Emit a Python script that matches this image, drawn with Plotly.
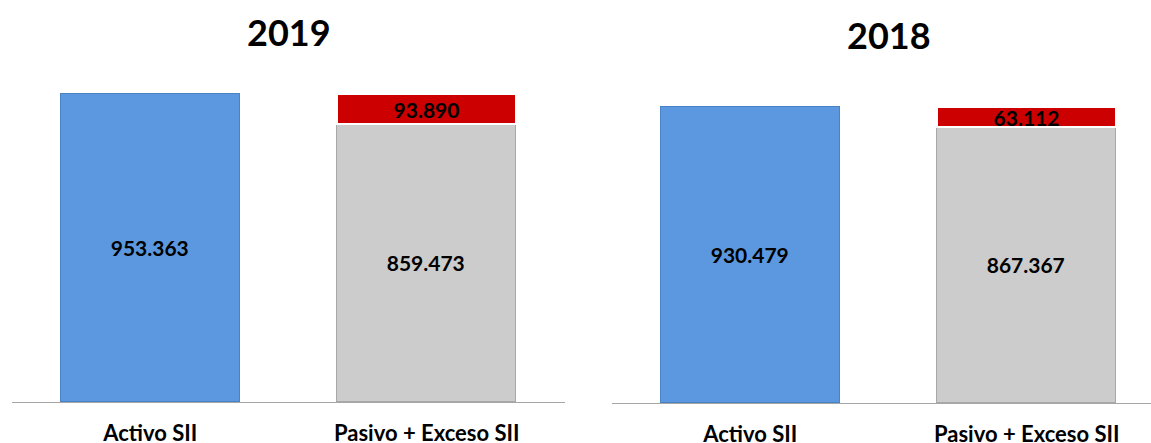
import plotly.graph_objects as go

# ---- data ----
categories = ["Activo SII", "Pasivo + Exceso SII"]
years = ["2019", "2018"]
activo = [953363, 930479]
pasivo = [859473, 867367]
exceso = [93890, 63112]

W, H = 1151, 443
BLUE = "#5C98DF"
GRAY = "#CCCCCC"
RED = "#CC0000"
FONT = "Lato"


def fmt(v):
    return f"{v:,}".replace(",", ".")


fig = go.Figure()
bar_w = 0.648
for i, yr in enumerate(years):
    xa = "x" if i == 0 else "x2"
    ya = "y" if i == 0 else "y2"
    fig.add_trace(go.Bar(
        x=[categories[0]], y=[activo[i]], xaxis=xa, yaxis=ya, width=bar_w,
        marker=dict(color=BLUE, line=dict(color="#4A82C6", width=1.5)),
        text=[fmt(activo[i])], textposition="inside", insidetextanchor="middle",
        textangle=0, constraintext="none",
        textfont=dict(family=FONT, size=21, color="black", weight=700),
        showlegend=False, hoverinfo="skip"))
    fig.add_trace(go.Bar(
        x=[categories[1]], y=[pasivo[i]], xaxis=xa, yaxis=ya, width=bar_w,
        marker=dict(color=GRAY, line=dict(color="#A8A8A8", width=1.5)),
        text=[fmt(pasivo[i])], textposition="inside", insidetextanchor="middle",
        textangle=0, constraintext="none",
        textfont=dict(family=FONT, size=21, color="black", weight=700),
        showlegend=False, hoverinfo="skip"))
    fig.add_trace(go.Bar(
        x=[categories[1]], y=[exceso[i]], xaxis=xa, yaxis=ya, width=bar_w,
        marker=dict(color=RED, line=dict(color="white", width=2)),
        text=[fmt(exceso[i])], textposition="inside", insidetextanchor="middle",
        textangle=0, constraintext="none",
        textfont=dict(family=FONT, size=21, color="black", weight=700),
        showlegend=False, hoverinfo="skip"))

# layout geometry (pixels)
L_x0, L_x1 = 12, 565
R_x0 = 612
cat_px = 276.5
base_L, base_R = 402, 403
top_px = 60
scale_L = 308 / activo[0]   # px per unit
scale_R = 296 / activo[1]

xcommon = dict(type="category", showline=True, linecolor="#A6A6A6", linewidth=1,
               showgrid=False, zeroline=False, ticks="", fixedrange=True,
               ticklabelstandoff=12, automargin=False,
               tickfont=dict(family=FONT, size=22, color="black", weight=700))
ycommon = dict(visible=False, showgrid=False, zeroline=False, fixedrange=True,
               automargin=False)

fig.update_layout(
    width=W, height=H, margin=dict(l=0, r=0, t=0, b=0, autoexpand=False),
    paper_bgcolor="white", plot_bgcolor="white",
    barmode="stack", bargap=0,
    xaxis=dict(domain=[L_x0 / W, L_x1 / W], range=[-0.5, 1.5], anchor="y", **xcommon),
    yaxis=dict(domain=[(H - base_L) / H, (H - top_px) / H],
               range=[0, (base_L - top_px) / scale_L], anchor="x", **ycommon),
    xaxis2=dict(domain=[R_x0 / W, 1], range=[-0.5, -0.5 + (W - R_x0) / cat_px],
                anchor="y2", **xcommon),
    yaxis2=dict(domain=[(H - base_R) / H, (H - top_px) / H],
                range=[0, (base_R - top_px) / scale_R], anchor="x2", **ycommon),
    annotations=[
        dict(text=years[0], x=(L_x0 + L_x1) / 2 / W, y=(H - 32) / H, xref="paper", yref="paper",
             xanchor="center", yanchor="middle", showarrow=False,
             font=dict(family=FONT, size=36, color="black", weight=700)),
        dict(text=years[1], x=(R_x0 + R_x0 + 2 * cat_px) / 2 / W, y=(H - 35) / H,
             xref="paper", yref="paper", xanchor="center", yanchor="middle", showarrow=False,
             font=dict(family=FONT, size=36, color="black", weight=700)),
    ],
)

fig.write_html("out.html")
